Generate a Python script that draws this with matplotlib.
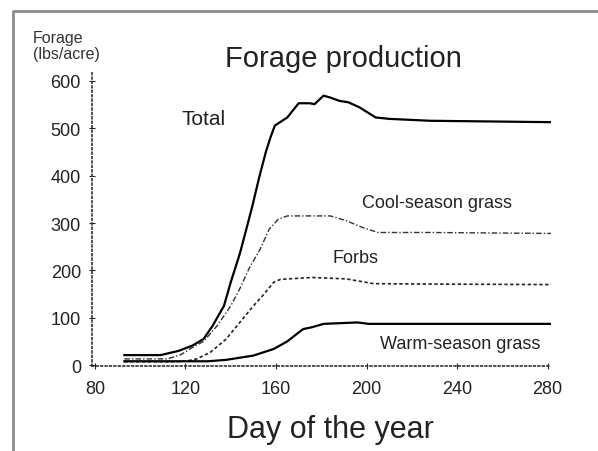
import matplotlib
matplotlib.use("Agg")
import matplotlib.pyplot as plt
from matplotlib.lines import Line2D

plt.rcParams['font.family'] = ['Liberation Sans', 'DejaVu Sans']

W, H = 598, 452

# ---- data (day of year, lbs/acre) ----
total_days = [93, 100, 109, 117, 123, 128, 132, 137, 140, 144, 146.5, 149.5, 152.5, 155.5, 157.5, 159.5,
              165, 170, 175, 177, 181, 184, 188, 192, 197, 204, 210, 228, 282]
total_vals = [21, 21, 21, 30, 41, 55, 83, 125, 175, 235, 280, 335, 395, 450, 480, 506,
              523, 553, 553, 551, 569, 565, 558, 555, 544, 523, 520, 516, 513]

cool_days = [93, 112, 118, 123, 128, 134, 140, 144, 148, 153, 157, 161, 165, 175, 184, 191, 198, 205, 228, 282]
cool_vals = [13, 13, 22, 37, 50, 83, 125, 161, 203, 245, 287, 308, 315, 315, 315, 305, 291, 280, 280, 278]

forbs_days = [93, 116, 121, 125, 131, 138, 144, 150, 154, 159, 162, 176, 191, 203, 228, 282]
forbs_vals = [7, 7, 9, 13, 27, 55, 90, 125, 146, 175, 181, 185, 182, 172, 171, 170]

warm_days = [93, 130, 138, 150, 159, 165, 169, 172, 176, 181, 196, 201, 282]
warm_vals = [8, 8, 11, 20, 34, 50, 65, 76, 80, 87, 90, 87, 87]

x_ticks = [80, 120, 160, 200, 240, 280]
y_ticks = [0, 100, 200, 300, 400, 500, 600]

fig = plt.figure(figsize=(W / 100, H / 100), dpi=100)

def fx(px):
    return px / W

def fy(py):
    return 1 - py / H

ax = fig.add_axes([fx(92), fy(367), fx(551) - fx(92), fy(73) - fy(367)])
ax.set_xlim(78.7, 281.5)
ax.set_ylim(-2, 619)

ax.plot(total_days, total_vals, color='black', lw=1.6, ls='-')
ax.plot(cool_days, cool_vals, color='#333333', lw=1.0, ls=(0, (4, 1.5, 1, 1.5)))
ax.plot(forbs_days, forbs_vals, color='#222222', lw=1.2, ls=(0, (2, 1.5)))
ax.plot(warm_days, warm_vals, color='black', lw=1.6, ls='-')

for s in ['top', 'right']:
    ax.spines[s].set_visible(False)
for s in ['left', 'bottom']:
    ax.spines[s].set_linestyle(':')
    ax.spines[s].set_linewidth(1.2)
    ax.spines[s].set_color('#333333')

ax.set_xticks(x_ticks)
ax.set_yticks(y_ticks)
ax.tick_params(axis='both', direction='inout', length=4, width=0.8, labelsize=13, colors='#222222')
ax.tick_params(axis='x', pad=8)
ax.tick_params(axis='y', pad=6)

# texts
fig.text(fx(343), fy(67), 'Forage production', fontsize=21, ha='center', va='baseline', color='#222222')
fig.text(fx(330), fy(438), 'Day of the year', fontsize=22, ha='center', va='baseline', color='#222222')
fig.text(fx(33), fy(43), 'Forage', fontsize=11.5, ha='left', va='baseline', color='#333333')
fig.text(fx(33), fy(59), '(lbs/acre)', fontsize=11.5, ha='left', va='baseline', color='#333333')

fig.text(fx(182), fy(125), 'Total', fontsize=15, ha='left', va='baseline', color='#222222')
fig.text(fx(362), fy(208), 'Cool-season grass', fontsize=13, ha='left', va='baseline', color='#222222')
fig.text(fx(333), fy(263), 'Forbs', fontsize=13, ha='left', va='baseline', color='#222222')
fig.text(fx(380), fy(349), 'Warm-season grass', fontsize=13, ha='left', va='baseline', color='#222222')

# frame border (left and top)
fig.add_artist(Line2D([fx(13), fx(13), 1.0], [0.0, fy(12), fy(12)],
                      transform=fig.transFigure, color='#8c8c8c', lw=2))

fig.savefig('out.png', dpi=100)
